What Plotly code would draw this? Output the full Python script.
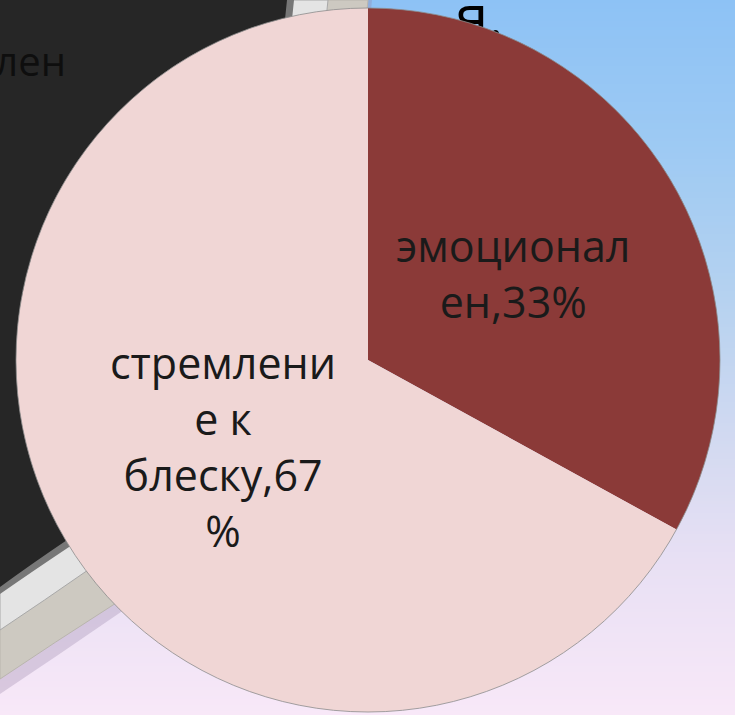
import numpy as np
import plotly.graph_objects as go

# ---- data -------------------------------------------------------------
categories = ["эмоционален", "стремление к блеску"]
shares = [33, 67]
slice_colors = ["#8b3a38", "#f0d6d5"]

# fragments of slide text that sit behind the chart
side_words = ["лен", "я."]

W, H = 735, 715
CX, CY, R = 368, 360, 352  # pie centre / radius in pixels
LABEL_R = 0.48             # label distance from centre, as a share of R


def wrap(text, width):
    """Greedy word wrap that also splits words longer than `width`."""
    lines, cur = [], ""
    for word in text.split(" "):
        cand = word if not cur else cur + " " + word
        if len(cand) <= width:
            cur = cand
            continue
        if cur:
            lines.append(cur)
            cur = ""
        while len(word) > width:
            lines.append(word[:width])
            word = word[width:]
        cur = word
    if cur:
        lines.append(cur)
    return "<br>".join(lines)


slice_text = [wrap(f"{c},{v}%", 9) for c, v in zip(categories, shares)]

fig = go.Figure()

# ---- slide background: vertical blue -> lavender gradient --------------
stops_y = [0, 150, 300, 450, 560, 715]
stops_rgb = np.array([
    [141, 194, 245],
    [158, 202, 243],
    [182, 210, 240],
    [212, 218, 241],
    [232, 224, 244],
    [248, 232, 248],
])
shapes = []
step = 3
for y0 in range(0, H, step):
    yc = y0 + step / 2
    rgb = [int(round(np.interp(yc, stops_y, stops_rgb[:, k]))) for k in range(3)]
    shapes.append(dict(type="rect", xref="x", yref="y", layer="below",
                       x0=0, x1=W, y0=y0, y1=min(H, y0 + step + 1),
                       line=dict(width=0), fillcolor=f"rgb({rgb[0]},{rgb[1]},{rgb[2]})"))

# ---- picture frame on the left ----------------------------------------
# soft shadow under the outer border
shapes.append(dict(type="path", xref="x", yref="y", layer="below",
                   path="M 372,0 C 344,300 254,526 118,614 Q 60,654 0,694 L 0,0 Z",
                   fillcolor="rgba(150,130,165,0.30)", line=dict(width=0)))
# beige outer border
shapes.append(dict(type="path", xref="x", yref="y", layer="below",
                   path="M 368,0 C 340,300 250,520 113,605 Q 55,642 0,679 L 0,0 Z",
                   fillcolor="#cdc9c1", line=dict(color="#b9b5ad", width=1)))
# white matte
shapes.append(dict(type="path", xref="x", yref="y", layer="below",
                   path="M 328,0 C 300,290 220,480 88,570 Q 45,600 0,630 L 0,0 Z",
                   fillcolor="#e4e4e4", line=dict(color="#a8a8a8", width=1)))
# dark-to-white transition
shapes.append(dict(type="path", xref="x", yref="y", layer="below",
                   path="M 294,0 C 266,282 186,464 72,545 Q 33,571 0,594 L 0,0 Z",
                   fillcolor="#777777", line=dict(width=0)))
# dark picture area
shapes.append(dict(type="path", xref="x", yref="y", layer="below",
                   path="M 287,0 C 260,280 180,460 67,540 Q 30,565 0,587 L 0,0 Z",
                   fillcolor="#262626", line=dict(width=0)))

# thin grey rim around the pie
shapes.append(dict(type="circle", xref="x", yref="y", layer="above",
                   x0=CX - R, x1=CX + R, y0=CY - R, y1=CY + R,
                   line=dict(color="rgba(140,140,140,0.8)", width=1)))

# ---- slide text fragments (under the pie) ------------------------------
fig.add_trace(go.Scatter(x=[66], y=[66], mode="text", text=[side_words[0]],
                         textposition="middle left",
                         textfont=dict(family="Open Sans", size=40, color="#0e0e0e"),
                         hoverinfo="skip", showlegend=False))
fig.add_trace(go.Scatter(x=[456], y=[22], mode="text", text=[side_words[1]],
                         textposition="middle right",
                         textfont=dict(family="Open Sans", size=58, color="#000000"),
                         hoverinfo="skip", showlegend=False))

# ---- pie --------------------------------------------------------------
fig.add_trace(go.Pie(
    labels=categories,
    values=shares,
    textinfo="none",
    marker=dict(colors=slice_colors, line=dict(width=0)),
    sort=False,
    direction="clockwise",
    rotation=0,
    hoverinfo="skip",
    showlegend=False,
    domain=dict(x=[(CX - R) / W, (CX + R) / W],
                y=[1 - (CY + R) / H, 1 - (CY - R) / H]),
))

# data labels placed on each slice's mid-angle
total = float(sum(shares))
annotations = []
cum = 0.0
for txt, v in zip(slice_text, shares):
    mid = np.radians((cum + v / 2.0) / total * 360.0)
    cum += v
    annotations.append(dict(
        x=CX + LABEL_R * R * np.sin(mid),
        y=CY - LABEL_R * R * np.cos(mid),
        xref="x", yref="y", text=txt, showarrow=False,
        xanchor="center", yanchor="middle", align="center",
        font=dict(family="Open Sans", size=43, color="#1a1a1a"),
    ))

fig.update_layout(
    width=W, height=H,
    margin=dict(l=0, r=0, t=0, b=0),
    paper_bgcolor="#f0e4f4",
    plot_bgcolor="rgba(0,0,0,0)",
    shapes=shapes,
    annotations=annotations,
    showlegend=False,
    xaxis=dict(range=[0, W], visible=False, fixedrange=True, domain=[0, 1]),
    yaxis=dict(range=[H, 0], visible=False, fixedrange=True, domain=[0, 1]),
)

fig.write_html("out.html")
